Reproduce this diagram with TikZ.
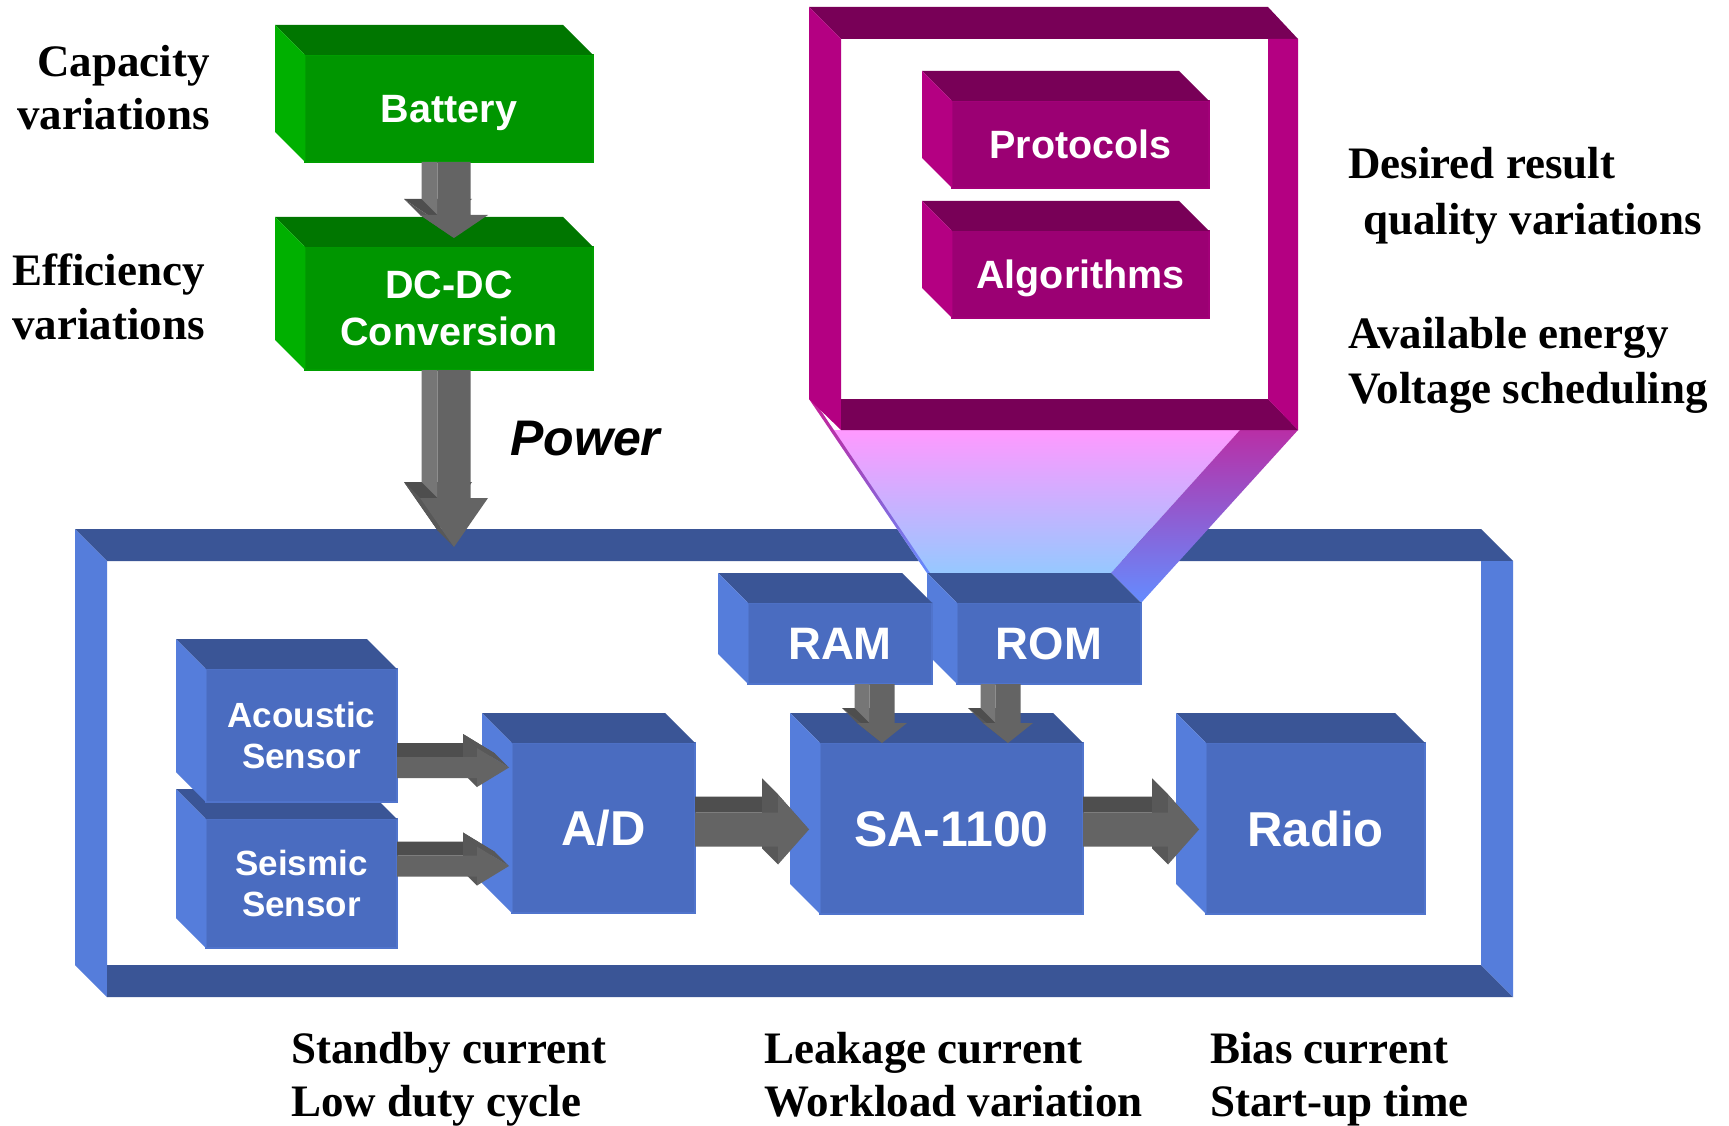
\documentclass[tikz,border=0pt]{standalone}
\usepackage{fontspec}
\setmainfont{Liberation Serif}
\setsansfont{Liberation Sans}
\usetikzlibrary{calc}

% block colours: front face, top face, left face, front edge
\definecolor{blueface}{RGB}{74,108,192}
\definecolor{bluetop}{RGB}{58,85,150}
\definecolor{blueside}{RGB}{85,125,219}
\definecolor{blueedge}{RGB}{80,116,204}
\definecolor{greenface}{RGB}{0,150,0}
\definecolor{greentop}{RGB}{0,118,0}
\definecolor{greenside}{RGB}{0,176,0}
\definecolor{greenedge}{RGB}{0,158,0}
\definecolor{magface}{RGB}{155,0,115}
\definecolor{magtop}{RGB}{120,0,87}
\definecolor{magside}{RGB}{180,0,130}
\definecolor{magedge}{RGB}{162,0,120}
% 3D arrow greys
\definecolor{arrface}{RGB}{100,100,100}
\definecolor{arrlight}{RGB}{118,118,118}
\definecolor{arrdark}{RGB}{78,78,78}
\definecolor{arrmid}{RGB}{88,88,88}
% zoom funnel
\definecolor{funtop}{RGB}{255,153,255}
\definecolor{funbot}{RGB}{150,200,255}
\definecolor{bandtop}{RGB}{200,30,150}
\definecolor{bandmid}{RGB}{160,90,210}
\definecolor{bandbot}{RGB}{100,140,255}

\tikzset{
  cubeface/.style={inner sep=0pt, outer sep=0pt, text=white, line width=1.5pt},
  lbl/.style={inner sep=0pt, font=\bfseries\fontsize{45}{54}\selectfont},
  fmid/.style={font=\sffamily\bfseries\fontsize{39.5}{47}\selectfont},
  fsmall/.style={font=\sffamily\bfseries\fontsize{35}{41}\selectfont, align=center},
  fmem/.style={font=\sffamily\bfseries\fontsize{45.5}{52}\selectfont, text height=32.5pt, text depth=0pt},
  fbig/.style={font=\sffamily\bfseries\fontsize{49}{56}\selectfont, text height=35pt, text depth=0pt},
}

% extruded block: name, front top-left corner, width, height, colour family, node options, text
\newcommand{\blockbox}[7]{%
  \node[cubeface, fill=#5face, draw=#5edge, minimum width=#3pt, minimum height=#4pt,
        anchor=north west, #6] (#1) at #2 {#7};
  \fill[#5top] ($(#1.north west)+(-30,-30)$) -- ($(#1.north east)+(-30,-30)$)
     -- (#1.north east) -- (#1.north west) -- cycle;
  \fill[#5side] ($(#1.north west)+(-30,-30)$) -- (#1.north west)
     -- (#1.south west) -- ($(#1.south west)+(-30,-30)$) -- cycle;
}

% downward 3D arrow: start, tip, shaft half width, head half width, head length, depth
\newcommand{\arrowDown}[6]{%
  \coordinate (aS) at (#2 |- #1);
  \coordinate (aB) at ($(#2)+(0,-#5)$);
  \fill[arrdark] ($(aB)+(-#4-#6,-#6)$) -- ($(aB)+(#4-#6,-#6)$) -- ($(#2)+(-#6,-#6)$) -- cycle;
  \fill[arrmid] ($(aB)+(-#4-#6,-#6)$) -- ($(aB)+(-#4,0)$) -- (#2) -- ($(#2)+(-#6,-#6)$) -- cycle;
  \fill[arrlight] ($(aS)+(-#3-#6,0)$) -- ($(aS)+(-#3,0)$) -- ($(aB)+(-#3,0)$)
     -- ($(aB)+(-#3-#6,-#6)$) -- cycle;
  \fill[arrface] ($(aS)+(-#3,0)$) -- ($(aS)+(#3,0)$) -- ($(aB)+(#3,0)$) -- ($(aB)+(#4,0)$)
     -- (#2) -- ($(aB)+(-#4,0)$) -- ($(aB)+(-#3,0)$) -- cycle;
}

% rightward 3D arrow: start, tip, shaft half width, head half width, head length, depth
\newcommand{\arrowRight}[6]{%
  \coordinate (aS) at (#1 |- #2);
  \coordinate (aB) at ($(#2)+(-#5,0)$);
  \fill[arrdark] ($(aS)+(0,-#3)$) -- ($(aB)+(0,-#3)$) -- ($(aB)+(-#6,-#3-#6)$)
     -- ($(aS)+(0,-#3-#6)$) -- cycle;
  \fill[arrdark] ($(aB)+(-#6,-#4-#6)$) -- ($(#2)+(-#6,-#6)$) -- ($(aB)+(-#6,#4-#6)$) -- cycle;
  \fill[arrmid] ($(aB)+(-#6,-#4-#6)$) -- ($(aB)+(0,-#4)$) -- ($(aB)+(0,#4)$)
     -- ($(aB)+(-#6,#4-#6)$) -- cycle;
  \fill[arrmid] ($(aB)+(-#6,-#4-#6)$) -- ($(aB)+(0,-#4)$) -- (#2) -- ($(#2)+(-#6,-#6)$) -- cycle;
  \fill[arrface] ($(aS)+(0,-#3)$) -- ($(aB)+(0,-#3)$) -- ($(aB)+(0,-#4)$) -- (#2)
     -- ($(aB)+(0,#4)$) -- ($(aB)+(0,#3)$) -- ($(aS)+(0,#3)$) -- cycle;
}

\begin{document}
\begin{tikzpicture}[x=1pt, y=-1pt]
\useasboundingbox (0,0) rectangle (1729,1126);
\fill[white] (0,0) rectangle (1729,1126);

% ---- sensor node enclosure (open blue frame)
\fill[bluetop]  (75,529) -- (1481,529) -- (1513,561) -- (107,561) -- cycle;
\fill[blueside] (75,529) -- (107,561) -- (107,997) -- (75,965) -- cycle;
\fill[bluetop]  (107,965) -- (1481,965) -- (1513,997) -- (107,997) -- cycle;
\fill[blueside] (1481,561) -- (1513,561) -- (1513,997) -- (1481,965) -- cycle;

% ---- funnel from the software frame down to the ROM
\shade[top color=funtop, bottom color=funbot]
  (830,430) -- (1240,430) -- (1111,573) -- (927,573) -- cycle;
\shade[top color=bandtop, bottom color=bandbot]
  (809,399) -- (813,399) -- (930,573) -- (927,573) -- cycle;
\shade[top color=bandtop, middle color=bandmid, bottom color=bandbot]
  (1268,399) -- (1298,430) -- (1141,603) -- (1111,573) -- cycle;

% ---- software frame (magenta)
\fill[magtop]  (809,7) -- (1268,7) -- (1298,39) -- (841,39) -- cycle;
\fill[magside] (809,7) -- (841,39) -- (841,430) -- (809,399) -- cycle;
\fill[magtop]  (841,399) -- (1268,399) -- (1298,430) -- (841,430) -- cycle;
\fill[magside] (1268,39) -- (1298,39) -- (1298,430) -- (1268,399) -- cycle;

\blockbox{prot}{(952,101)}{257}{87}{mag}{fmid, text height=28pt, text depth=0pt}{Protocols}
\blockbox{algo}{(952,231)}{257}{87}{mag}{fmid, text height=28pt, text depth=0pt}{Algorithms}

% ---- power supply chain
\blockbox{bat}{(305,55)}{288}{107}{green}{fmid, text height=28pt, text depth=0pt}{Battery}
\blockbox{dc}{(305,247)}{288}{123}{green}{fmid, align=center}{DC-DC\\Conversion}

\coordinate (tipDC) at ($(dc.north)+(5,-9)$);
\coordinate (tipPow) at (454,547);
\arrowDown{bat.south}{tipDC}{16.5}{34}{23}{16}
\arrowDown{dc.south}{tipPow}{16.5}{34}{49}{16}
\node[anchor=base west, inner sep=0pt, font=\sffamily\bfseries\itshape\fontsize{50}{60}\selectfont]
  (pow) at (510,455) {Power};

% ---- hardware blocks
\blockbox{seis}{(206,819)}{191}{129}{blue}{fsmall}{Seismic\\Sensor}
\blockbox{acou}{(206,669)}{191}{133}{blue}{fsmall}{Acoustic\\Sensor}
\blockbox{ad}{(512,743)}{183}{170}{blue}{fbig}{A/D}
\blockbox{rom}{(957,603)}{184}{81}{blue}{fmem}{ROM}
\blockbox{ram}{(748,603)}{184}{81}{blue}{fmem}{RAM}
\blockbox{sa}{(820,743)}{263}{171}{blue}{fbig, font=\sffamily\bfseries\fontsize{50}{56}\selectfont}{SA-1100}
\blockbox{radio}{(1206,743)}{219}{171}{blue}{fbig}{Radio}

% ---- data flow
\coordinate (tipAcou) at (509,767.5);
\coordinate (tipSeis) at (509,866);
\coordinate (tipAd) at (809,829.5);
\coordinate (tipRadio) at (1199,829.5);
\coordinate (tipRam) at (882,743);
\coordinate (tipRom) at (1008,743);
\arrowRight{acou.east}{tipAcou}{10.5}{19.5}{32}{14}
\arrowRight{seis.east}{tipSeis}{10.5}{19.5}{32}{14}
\arrowRight{ad.east}{tipAd}{17}{35}{31}{16}
\arrowRight{sa.east}{tipRadio}{17}{35}{31}{16}
\arrowDown{ram.south}{tipRam}{12.5}{25}{20}{15}
\arrowDown{rom.south}{tipRom}{12.5}{25}{20}{15}

% ---- annotations
\node[lbl, anchor=base east] (capA) at (210,77) {Capacity};
\node[lbl, anchor=base east] (capB) at (210,130) {variations};
\node[lbl, anchor=base west] (effA) at (12,285) {Efficiency};
\node[lbl, anchor=base west] (effB) at (12,339) {variations};
\node[lbl, anchor=base west] (desA) at (1348,179) {Desired result};
\node[lbl, anchor=base west] (desB) at (1363,234) {quality variations};
\node[lbl, anchor=base west] (enA) at (1348,348) {Available energy};
\node[lbl, anchor=base west] (enB) at (1348,403) {Voltage scheduling};
\node[lbl, anchor=base west] (stbA) at (291,1063) {Standby current};
\node[lbl, anchor=base west] (stbB) at (291,1116) {Low duty cycle};
\node[lbl, anchor=base west] (lkA) at (764,1063) {Leakage current};
\node[lbl, anchor=base west] (lkB) at (764,1116) {Workload variation};
\node[lbl, anchor=base west] (biA) at (1210,1063) {Bias current};
\node[lbl, anchor=base west] (biB) at (1210,1116) {Start-up time};
\end{tikzpicture}
\end{document}
